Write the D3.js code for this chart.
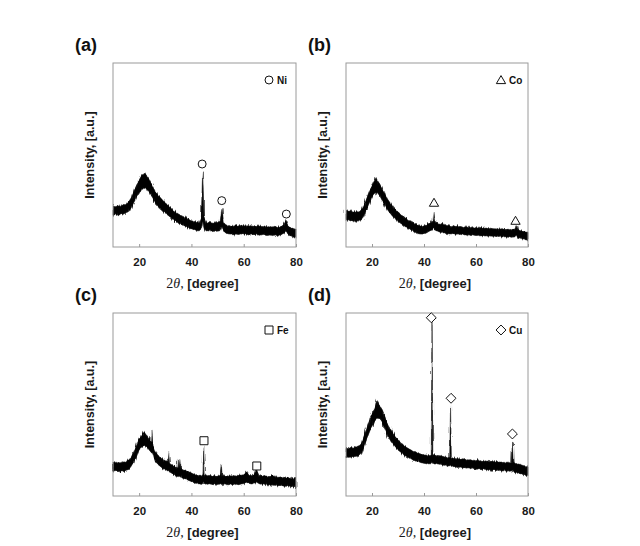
<!DOCTYPE html>
<html>
<head>
<meta charset="utf-8">
<script src="https://cdn.jsdelivr.net/npm/d3@7"></script>
<style>
  html, body { margin: 0; padding: 0; background: #fff; }
  svg { display: block; }
</style>
</head>
<body>
<svg id="chart" width="640" height="546"></svg>
<script>
// ---------- data (2θ, lower edge, upper edge of the noisy trace; intensity in a.u.) ----------
const xTicks = [20, 40, 60, 80];
const panelLabels = ["(a)", "(b)", "(c)", "(d)"];
const phaseNames = ["Ni", "Co", "Fe", "Cu"];
const phaseSymbols = ["circle", "triangle", "square", "diamond"];

const traceNi = [[10,17.2,22.5],[11,17.8,21.9],[12,17.0,22.4],[13,18.1,22.0],[14,17.6,23.1],[15,18.5,22.9],[16,19.2,24.6],[17,21.5,26.8],[18,24.3,30.5],[19,27.0,33.8],[20,29.6,36.4],[21,31.2,38.9],[22,32.0,40.2],[23,31.5,38.6],[24,29.4,36.5],[25,26.9,33.4],[26,24.3,30.6],[27,22.6,28.5],[28,21.0,27.0],[29,19.8,25.4],[30,18.6,23.9],[31,17.3,22.8],[32,16.2,21.3],[33,14.9,19.9],[34,14.1,18.9],[35,13.0,18.0],[36,12.4,17.1],[37,11.6,16.5],[38,11.0,15.6],[39,10.3,15.0],[40,9.8,14.3],[41,9.4,13.9],[42,8.9,13.5],[43,8.8,13.2],[43.8,10.5,16.0],[44.3,14.0,40.9],[44.8,10.8,16.5],[45.5,9.0,13.8],[46,8.6,13.2],[47,8.9,13.4],[48,8.4,12.9],[49,8.7,13.1],[50,8.5,13.3],[51,9.0,14.0],[51.7,11.0,21.0],[52.3,8.6,13.5],[53,7.8,12.2],[54,7.2,11.5],[55,7.0,11.6],[56,6.6,11.2],[57,7.1,11.8],[58,6.8,11.3],[59,7.2,11.9],[60,6.9,11.5],[61,7.0,11.4],[62,6.5,11.7],[63,7.1,11.2],[64,6.7,11.6],[65,6.9,11.1],[66,6.4,11.5],[67,6.8,11.0],[68,6.5,11.4],[69,6.3,10.9],[70,6.5,11.1],[71,6.2,10.8],[72,6.6,11.3],[73,6.1,10.7],[74,6.4,11.0],[75,7.0,12.0],[76.2,8.5,14.5],[77,6.9,11.5],[78,5.9,10.4],[79,5.5,10.2],[80,5.2,9.8]];

const traceCo = [[10,14.8,20.2],[11,14.6,19.4],[12,14.1,19.6],[13,14.3,18.9],[14,13.9,19.3],[15,14.5,19.0],[16,14.8,20.3],[17,17.4,23.1],[18,20.9,26.8],[19,24.1,30.4],[20,27.0,33.5],[21,29.3,36.2],[21.5,29.8,37.9],[22,29.6,36.3],[23,27.9,34.2],[24,25.1,31.4],[25,22.5,28.7],[26,20.2,26.0],[27,18.3,23.9],[28,16.6,22.0],[29,15.2,20.3],[30,14.0,19.1],[31,12.9,17.8],[32,11.9,16.6],[33,10.9,15.6],[34,10.1,14.6],[35,9.2,13.8],[36,8.6,13.0],[37,7.8,12.3],[38,7.2,11.5],[39,7.0,11.3],[40,7.1,11.4],[41,7.7,12.0],[42,8.6,12.9],[43,9.3,13.6],[43.5,10.0,14.5],[43.8,11.0,19.2],[44.2,9.6,14.2],[45,8.8,13.2],[46,8.1,12.4],[47,7.9,12.2],[48,7.5,11.8],[49,7.3,11.6],[50,7.1,11.4],[51,7.3,11.2],[52,6.8,11.4],[53,7.2,11.0],[54,6.6,11.2],[55,6.9,10.8],[56,6.4,10.9],[57,6.8,10.6],[58,6.3,10.8],[59,6.5,10.4],[60,6.2,10.5],[61,6.4,10.2],[62,6.0,10.6],[63,6.3,10.1],[64,5.9,10.3],[65,6.1,9.9],[66,5.7,10.2],[67,6.0,9.8],[68,5.6,10.0],[69,5.8,9.7],[70,5.5,9.9],[71,5.7,9.6],[72,5.3,9.8],[73,5.5,9.4],[74,5.2,9.6],[75,5.6,10.0],[75.5,6.5,11.8],[76,5.2,9.3],[77,4.6,8.9],[78,4.3,8.5],[79,4.0,8.2],[80,3.8,8.0]];

const traceFe = [[10,13.6,18.6],[11,13.9,18.2],[12,13.2,18.5],[13,13.8,18.0],[14,13.4,18.7],[15,14.1,18.4],[16,14.5,19.5],[17,16.4,21.3],[18,19.0,24.3],[19,22.2,27.6],[20,25.1,31.0],[21,26.9,33.2],[22,27.7,35.1],[23,26.8,33.0],[24,24.9,30.9],[24.8,23.5,29.5],[25,23.5,36.1],[25.3,22.5,28.0],[26,18.9,24.4],[27,17.5,22.6],[28,16.3,21.3],[29,15.2,20.2],[30,14.4,19.3],[31,13.7,18.6],[31.3,14.0,24.2],[31.6,13.1,18.0],[32,12.7,17.4],[33,11.9,16.6],[34,11.1,15.8],[34.8,10.7,15.4],[35,11.0,19.7],[35.2,10.6,15.2],[35.7,10.6,20.2],[36,10.1,14.8],[37,9.6,14.3],[38,9.2,13.9],[39,8.5,13.2],[40,7.9,12.6],[41,7.3,12.0],[42,6.9,11.4],[43,6.6,11.3],[44,6.4,11.2],[44.4,7.0,12.0],[44.7,8.0,26.9],[45,6.8,11.6],[46,6.4,11.0],[47,6.7,11.2],[48,6.2,10.9],[49,6.6,11.1],[50,6.3,10.8],[51,6.6,11.3],[51.4,7.0,17.5],[51.8,6.3,10.9],[52,6.2,11.0],[53,6.5,10.8],[54,6.1,11.1],[55,6.4,10.9],[56,6.0,11.2],[57,6.5,10.8],[58,6.2,11.3],[59,6.6,11.4],[60,6.8,11.6],[61,7.6,13.4],[62,6.9,11.4],[63,6.6,11.0],[64,6.9,11.7],[65,7.5,14.2],[66,6.7,11.3],[67,6.3,10.9],[68,6.6,11.2],[69,6.1,10.7],[70,6.2,10.6],[71,5.8,11.2],[72,6.0,10.4],[73,5.6,10.1],[74,5.8,10.5],[75,5.5,10.1],[76,5.3,9.8],[77,5.6,10.2],[78,5.1,9.6],[79,5.0,9.5],[80,4.9,10.2]];

const traceCu = [[10,20.8,26.0],[11,21.2,25.9],[12,21.3,26.6],[13,21.6,26.3],[14,21.7,26.9],[15,22.3,27.4],[16,23.4,28.9],[17,27.1,33.0],[18,31.2,37.5],[19,35.0,41.6],[20,38.2,45.1],[21,40.8,48.0],[22,42.6,52.5],[23,42.2,49.3],[24,40.0,47.0],[25,36.5,43.2],[26,33.0,39.5],[27,30.6,36.8],[28,28.6,34.6],[29,26.7,32.5],[30,25.2,30.9],[31,24.0,29.4],[32,22.8,28.0],[33,21.8,26.8],[34,21.0,25.9],[35,20.2,25.1],[36,19.6,24.4],[37,19.1,23.9],[38,18.7,23.3],[39,18.2,22.9],[40,17.9,22.4],[41,17.6,22.3],[42,17.6,22.0],[42.8,17.8,22.3],[43.1,18.5,95.2],[43.4,17.7,22.6],[44,17.5,22.5],[45,17.6,22.1],[46,17.4,22.0],[47,17.0,21.7],[48,16.8,21.3],[49,16.4,21.0],[49.9,16.5,21.2],[50.2,17.0,49.7],[50.5,16.2,21.0],[51,16.1,20.8],[52,16.0,20.6],[53,15.6,20.5],[54,15.8,20.1],[55,15.5,20.3],[56,15.2,19.9],[57,15.4,19.7],[58,14.9,19.8],[59,15.1,19.4],[60,14.6,19.5],[61,14.9,19.1],[62,14.4,19.3],[63,14.7,18.9],[64,14.2,19.2],[65,14.5,18.8],[66,14.0,19.0],[67,14.3,18.6],[68,13.8,18.8],[69,14.1,18.4],[70,13.6,18.6],[71,13.9,18.2],[72,13.4,18.5],[73,13.6,18.1],[73.7,13.8,18.5],[74,14.5,29.7],[74.3,13.4,18.6],[75,12.9,17.8],[76,12.6,17.6],[77,12.2,17.2],[78,11.8,16.7],[79,11.3,16.2],[80,11.0,15.8]];

// peak markers (2θ, intensity)
const markersNi = [[44.1,45.1],[51.6,25.2],[76.3,17.9]];
const markersCo = [[43.85,24.1],[75.2,14.3]];
const markersFe = [[44.8,30.2],[65.0,16.4]];
const markersCu = [[42.8,97.4],[50.4,53.4],[74.0,33.9]];

// ---------- layout ----------
const panels = [
  {trace: traceNi, markers: markersNi, left: 113, right: 296, top: 63,  bottom: 247},
  {trace: traceCo, markers: markersCo, left: 346, right: 528, top: 63,  bottom: 247},
  {trace: traceFe, markers: markersFe, left: 113, right: 296, top: 313, bottom: 496},
  {trace: traceCu, markers: markersCu, left: 346, right: 528, top: 313, bottom: 496}
];

const svg = d3.select("#chart");
const sansBold = "Arial, 'Liberation Sans', sans-serif";

// rendering texture for the noisy detector trace (pure styling)
const defs = svg.append("defs");
const flt = defs.append("filter").attr("id", "grain")
  .attr("x", "-5%").attr("y", "-20%").attr("width", "110%").attr("height", "140%");
flt.append("feTurbulence").attr("type", "fractalNoise")
  .attr("baseFrequency", "1.1 0.06").attr("numOctaves", 2).attr("seed", 3).attr("result", "n");
flt.append("feDisplacementMap").attr("in", "SourceGraphic").attr("in2", "n")
  .attr("scale", 5).attr("xChannelSelector", "B").attr("yChannelSelector", "R");

function symbolPath(kind, size) {
  const s = size;
  if (kind === "circle") return d3.symbol(d3.symbolCircle, s * s * 0.78)();
  if (kind === "square") return d3.symbol(d3.symbolSquare, s * s)();
  if (kind === "diamond") return `M0,${-s*0.62}L${s*0.62},0L0,${s*0.62}L${-s*0.62},0Z`;
  return `M0,${-s*0.55}L${s*0.58},${s*0.45}L${-s*0.58},${s*0.45}Z`;
}

panels.forEach((p, i) => {
  const x = d3.scaleLinear().domain([10, 80]).range([p.left, p.right]);
  const y = d3.scaleLinear().domain([0, 100]).range([p.bottom, p.top]);
  const g = svg.append("g");

  const area = d3.area()
    .x(d => x(d[0]))
    .y0(d => y(d[1]))
    .y1(d => y(d[2]));

  // textured band
  g.append("path")
    .datum(p.trace)
    .attr("d", area)
    .attr("fill", "#111")
    .attr("stroke", "#555")
    .attr("stroke-width", 0.8)
    .attr("filter", "url(#grain)");
  // solid core of the trace
  g.append("path")
    .datum(p.trace)
    .attr("d", area)
    .attr("fill", "#000")
    .attr("stroke", "none")
    .attr("opacity", 0.85);

  // frame
  g.append("rect")
    .attr("x", p.left).attr("y", p.top)
    .attr("width", p.right - p.left).attr("height", p.bottom - p.top)
    .attr("fill", "none").attr("stroke", "#9a9a9a").attr("stroke-width", 1);

  // x axis (inward ticks)
  const axis = d3.axisBottom(x).tickValues(xTicks).tickSize(-3).tickPadding(11)
    .tickFormat(d3.format("d"));
  const ax = g.append("g").attr("transform", `translate(0,${p.bottom})`).call(axis);
  ax.select(".domain").remove();
  ax.selectAll(".tick line").attr("stroke", "#9a9a9a");
  ax.selectAll(".tick text")
    .attr("font-family", sansBold).attr("font-weight", "bold")
    .attr("font-size", 11.5).attr("fill", "#1a1a1a");

  // x title: 2θ, [degree]
  const xt = g.append("text")
    .attr("x", (p.left + p.right) / 2 - 2)
    .attr("y", p.bottom + 41)
    .attr("text-anchor", "middle")
    .attr("fill", "#1a1a1a");
  xt.append("tspan").attr("font-family", "'Liberation Serif', 'Times New Roman', serif")
    .attr("font-size", 14).text("2");
  xt.append("tspan").attr("font-family", "'Liberation Serif', 'Times New Roman', serif")
    .attr("font-style", "italic").attr("font-size", 14).text("θ,");
  xt.append("tspan").attr("font-family", sansBold).attr("font-weight", "bold")
    .attr("font-size", 13).text(" [degree]");

  // y title
  g.append("text")
    .attr("transform", `translate(${p.left - 19},${(p.top + p.bottom) / 2}) rotate(-90)`)
    .attr("text-anchor", "middle")
    .attr("font-family", sansBold).attr("font-weight", "bold")
    .attr("font-size", 12.5).attr("fill", "#1a1a1a")
    .text("Intensity, [a.u.]");

  // panel label
  g.append("text")
    .attr("x", p.left - 38)
    .attr("y", p.top - 12)
    .attr("font-family", sansBold).attr("font-weight", "bold")
    .attr("font-size", 18).attr("fill", "#111")
    .text(panelLabels[i]);

  // peak markers
  g.selectAll(".mk").data(p.markers).join("path")
    .attr("transform", d => `translate(${x(d[0])},${y(d[1])})`)
    .attr("d", symbolPath(phaseSymbols[i], 8))
    .attr("fill", "#fff").attr("stroke", "#111").attr("stroke-width", 1);

  // legend
  const lx = p.right - 27, ly = p.top + 17;
  g.append("path")
    .attr("transform", `translate(${lx},${ly})`)
    .attr("d", symbolPath(phaseSymbols[i], 8))
    .attr("fill", "#fff").attr("stroke", "#111").attr("stroke-width", 1);
  g.append("text")
    .attr("x", lx + 8).attr("y", ly + 3.5)
    .attr("font-family", sansBold).attr("font-weight", "bold")
    .attr("font-size", 10).attr("fill", "#111")
    .text(phaseNames[i]);
});
</script>
</body>
</html>
